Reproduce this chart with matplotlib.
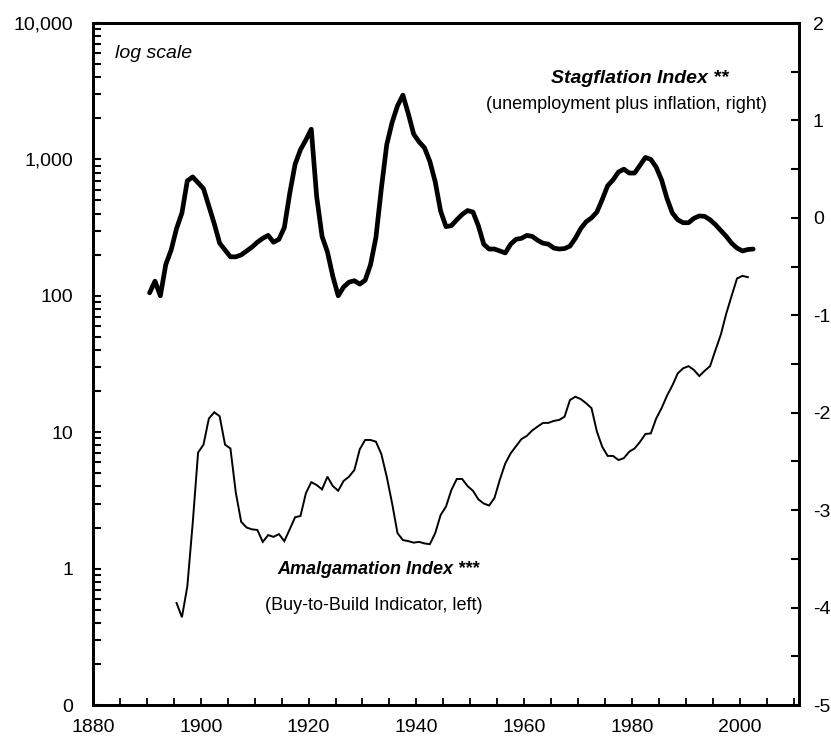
import matplotlib
matplotlib.use("Agg")
import matplotlib.pyplot as plt
from matplotlib.ticker import FixedLocator, FixedFormatter, MultipleLocator, NullFormatter

plt.rcParams['font.family'] = ['Liberation Sans', 'DejaVu Sans']

# ---- data ----
stag_years = list(range(1890, 2003))
stagflation = [
    -0.77, -0.65, -0.80, -0.48, -0.33, -0.11, 0.05, 0.38, 0.42, 0.36,      # 1890s
    0.30, 0.12, -0.06, -0.26, -0.33, -0.40, -0.40, -0.38, -0.34, -0.30,    # 1900s
    -0.25, -0.21, -0.18, -0.25, -0.22, -0.10, 0.25, 0.55, 0.70, 0.80,      # 1910s
    0.91, 0.22, -0.19, -0.35, -0.60, -0.80, -0.71, -0.66, -0.645, -0.68,   # 1920s
    -0.64, -0.48, -0.20, 0.30, 0.75, 0.98, 1.15, 1.26, 1.07, 0.86,         # 1930s
    0.78, 0.72, 0.58, 0.37, 0.07, -0.09, -0.08, -0.02, 0.035, 0.075,       # 1940s
    0.06, -0.08, -0.27, -0.32, -0.32, -0.34, -0.36, -0.27, -0.22, -0.21,   # 1950s
    -0.18, -0.19, -0.23, -0.26, -0.27, -0.31, -0.32, -0.315, -0.29, -0.21, # 1960s
    -0.11, -0.04, 0.00, 0.06, 0.19, 0.33, 0.39, 0.47, 0.50, 0.46,          # 1970s
    0.46, 0.54, 0.62, 0.60, 0.52, 0.39, 0.20, 0.05, -0.02, -0.05,          # 1980s
    -0.05, -0.005, 0.02, 0.015, -0.02, -0.07, -0.13, -0.19, -0.26, -0.31,  # 1990s
    -0.34, -0.325, -0.32,                                                  # 2000s
]

amal_years = list(range(1895, 2002))
amalgamation = [
    0.56, 0.44, 0.74, 2.15, 7.1,                                   # 1895-1899
    8.1, 12.6, 14.0, 13.1, 8.1, 7.6, 3.6, 2.2, 2.0, 1.94,          # 1900s
    1.92, 1.57, 1.76, 1.71, 1.79, 1.59, 1.94, 2.38, 2.43, 3.57,    # 1910s
    4.30, 4.10, 3.81, 4.72, 4.03, 3.72, 4.39, 4.72, 5.28, 7.50,    # 1920s
    8.77, 8.77, 8.52, 6.92, 4.72, 3.01, 1.82, 1.62, 1.59, 1.55,    # 1930s
    1.57, 1.53, 1.51, 1.82, 2.47, 2.85, 3.77, 4.54, 4.54, 4.03,    # 1940s
    3.72, 3.22, 3.0, 2.9, 3.3, 4.5, 5.9, 7.0, 7.9, 8.9,            # 1950s
    9.4, 10.3, 11.0, 11.7, 11.7, 12.1, 12.3, 13.0, 17.2, 18.2,     # 1960s
    17.5, 16.3, 15.0, 10.1, 7.8, 6.7, 6.7, 6.25, 6.45, 7.2,        # 1970s
    7.6, 8.5, 9.7, 9.8, 12.6, 15.0, 18.5, 22.0, 27.0, 29.4,        # 1980s
    30.5, 28.6, 25.8, 28.2, 30.5, 40.0, 52.0, 74.0, 100.0, 134.0,  # 1990s
    140.0, 137.0,                                                  # 2000s
]

left_ticks = [0.1, 1, 10, 100, 1000, 10000]
left_labels = ["0", "1", "10", "100", "1,000", "10,000"]
right_ticks = [-5, -4, -3, -2, -1, 0, 1, 2]
x_ticks = [1880, 1900, 1920, 1940, 1960, 1980, 2000]

# mid-year positions
sx = [y + 0.5 for y in stag_years]
amx = [y + 0.5 for y in amal_years]

W, H = 831, 744
fig = plt.figure(figsize=(W / 100, H / 100), dpi=100)
L, R, T, B = 93, 799, 23, 705
ax = fig.add_axes([L / W, 1 - B / H, (R - L) / W, (B - T) / H])
ax2 = ax.twinx()

FS = 14
TS = 13

ax.plot(amx, amalgamation, color='black', lw=1.4, solid_joinstyle='miter')
ax.set_yscale('log')
ax.set_ylim(0.1, 10000)
ax.set_xlim(1880, 2011)
ax.yaxis.set_major_locator(FixedLocator(left_ticks))
ax.yaxis.set_major_formatter(FixedFormatter(left_labels))
ax.yaxis.set_minor_formatter(NullFormatter())
ax.xaxis.set_major_locator(FixedLocator(x_ticks))
ax.xaxis.set_minor_locator(MultipleLocator(5))

ax2.plot(sx, stagflation, color='black', lw=3.4, solid_joinstyle='round', solid_capstyle='round')
ax2.set_ylim(-5, 2)
ax2.yaxis.set_major_locator(FixedLocator(right_ticks))
ax2.yaxis.set_minor_locator(MultipleLocator(0.5))
ax2.set_yticklabels([str(v) for v in right_ticks])

for a in (ax, ax2):
    for s in a.spines.values():
        s.set_linewidth(2.0)
        s.set_color('black')

ax.tick_params(axis='y', which='both', direction='in', length=6, width=1.5,
               labelsize=FS, pad=14)
ax.tick_params(axis='x', which='both', direction='in', length=5, width=1.3,
               labelsize=FS, pad=10)
ax2.tick_params(axis='y', which='both', direction='in', length=6, width=1.5,
                labelsize=FS, pad=10)

def fx(px):
    return (px - L) / (R - L)

def fy(py):
    return 1 - (py - T) / (B - T)

ax.text(fx(115), fy(53), "log scale", transform=ax.transAxes, fontsize=FS,
        style='italic', ha='left', va='center')
ax.text(fx(640), fy(78), "Stagflation Index **", transform=ax.transAxes,
        fontsize=FS, style='italic', weight='bold', ha='center', va='center')
ax.text(fx(626), fy(104), "(unemployment plus inflation, right)",
        transform=ax.transAxes, fontsize=TS, ha='center', va='center')
ax.text(fx(378), fy(570), "Amalgamation Index ***", transform=ax.transAxes,
        fontsize=TS, style='italic', weight='bold', ha='center', va='center')
ax.text(fx(374), fy(605), "(Buy-to-Build Indicator, left)",
        transform=ax.transAxes, fontsize=TS, ha='center', va='center')

fig.savefig("out.png", dpi=100)
